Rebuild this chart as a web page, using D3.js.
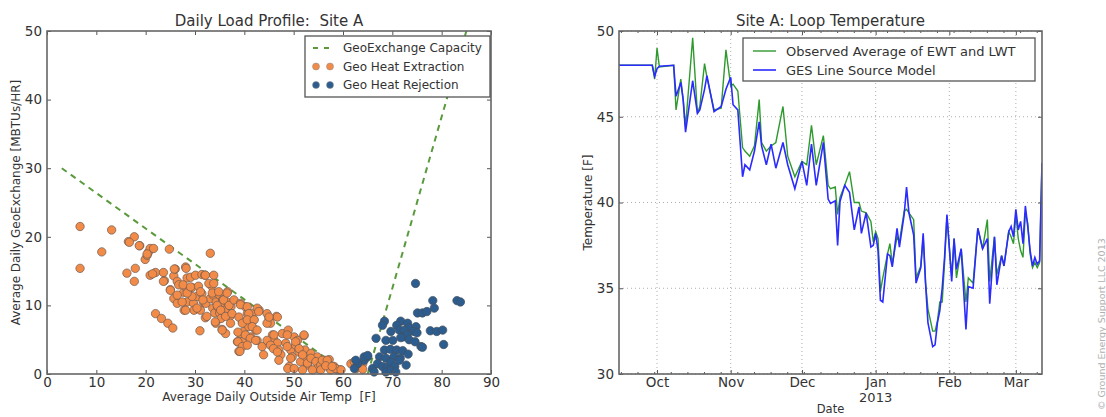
<!DOCTYPE html>
<html>
<head>
<meta charset="utf-8">
<script src="https://cdnjs.cloudflare.com/ajax/libs/d3/7.8.5/d3.min.js"></script>
<style>
	body { margin: 0; background: #fff; }
	svg { font-family: "DejaVu Sans", sans-serif; }
	text { white-space: pre; }
	.tick text { fill: #333; }
</style>
</head>
<body>
<div id="chart-area"></div>
<script>
// ---- left chart data: [outside air temp F, load MBTU/hr]
var extraction = [
	[6.7,21.5],[6.7,15.4],[11.1,17.8],[13.1,21.0],[16.2,14.7],[16.5,19.3],[17.7,20.0],[17.9,15.4],[17.7,13.5],[18.8,18.7],
	[19.9,16.7],[20.3,17.3],[20.6,17.8],[20.9,18.3],[21.6,18.3],[20.9,14.4],[22.0,14.8],[22.0,8.8],[23.2,8.1],[23.6,14.8],
	[23.8,13.6],[24.5,7.4],[24.8,18.2],[25.0,12.3],[25.5,6.7],[25.7,14.3],[26.0,15.3],[26.4,13.5],[26.7,13.0],[27.7,11.9],
	[27.8,9.3],[28.1,15.6],[28.4,14.0],[28.4,12.3],[28.4,10.5],[29.1,14.1],[29.4,12.6],[29.7,10.3],[29.8,9.3],[30.1,14.4],
	[30.4,11.3],[30.7,12.8],[31.0,6.3],[31.1,9.3],[31.4,14.5],[31.4,11.7],[31.7,10.5],[32.0,14.4],[32.1,8.2],[32.2,10.3],
	[33.1,17.6],[33.1,11.0],[33.4,12.8],[33.6,9.6],[33.7,11.5],[34.0,8.9],[34.2,7.4],[34.3,10.5],[34.6,9.8],[35.0,11.5],
	[35.0,8.9],[35.3,8.1],[35.5,6.5],[35.6,10.8],[35.9,10.0],[36.0,9.3],[36.2,5.9],[36.5,10.5],[36.6,12.0],[36.8,9.3],
	[37.1,8.4],[37.3,9.8],[38.6,4.7],[38.9,3.3],[39.1,5.9],[32.1,14.4],[32.8,13.2],[33.8,13.2],[33.8,14.4],[31.6,10.8],
	[32.4,8.4],[33.5,11.8],[34.5,10.0],[34.1,7.6],[35.2,9.3],[35.8,10.8],[36.2,8.4],[36.5,11.8],[36.9,10.0],[37.2,7.4],
	[37.5,8.8],[37.9,10.8],[35.5,6.4],[34.8,12.0],[39.2,10.3],[39.6,7.6],[39.9,6.2],[39.6,4.7],[40.2,9.8],[40.6,8.8],
	[40.9,6.9],[41.3,5.4],[41.6,8.8],[41.9,7.9],[42.3,6.4],[42.6,4.9],[43.0,9.3],[43.6,4.0],[43.9,2.8],[44.6,8.8],
	[45.0,8.1],[45.3,7.4],[45.7,5.7],[46.0,5.0],[46.5,8.4],[46.7,4.5],[47.0,3.5],[47.4,2.8],[47.7,5.9],[48.4,4.5],
	[48.9,6.4],[49.1,1.1],[49.4,3.5],[49.7,2.5],[50.1,5.4],[50.4,4.2],[50.8,4.9],[51.1,3.2],[51.4,1.8],[52.1,5.6],
	[52.3,3.5],[52.5,2.5],[52.8,1.3],[53.5,3.0],[54.2,2.1],[54.8,2.5],[55.2,1.6],[55.8,1.1],[56.5,1.8],[57.2,2.1],
	[57.5,0.8],[58.2,1.1],[58.9,0.6],[59.5,0.6],[39.2,10.1],[40.6,9.8],[40.9,8.8],[42.6,9.6],[42.9,9.1],[38.9,8.3],
	[39.6,7.4],[40.6,7.9],[42.0,7.9],[41.6,6.9],[42.6,6.4],[38.7,6.1],[40.2,5.7],[41.2,5.2],[42.3,4.9],[38.7,4.7],
	[39.6,4.0],[39.1,3.3],[40.6,4.2],[44.6,4.9],[45.3,4.2],[45.9,3.7],[46.7,3.2],[47.0,2.0],[46.0,5.7],[46.7,8.3],
	[44.6,7.4],[45.0,8.3],[48.7,5.7],[48.7,4.0],[49.4,2.3],[48.8,0.8],[50.1,0.8],[50.4,4.7],[51.1,3.7],[51.8,2.8],
	[51.8,0.6],[52.8,1.6],[53.5,2.3],[54.5,1.8],[54.8,0.8],[55.5,1.3],[56.2,2.0],[57.2,1.3],[57.5,0.6],[58.5,0.8],
	[59.6,0.6],[55.5,0.6],[53.8,0.6],[52.1,5.7],[23.6,13.5],[25.0,12.2],[25.7,11.0],[26.4,10.3],[27.4,10.5],[28.1,9.3],
	[29.4,11.3],[30.4,9.6],[31.1,12.0],[26.4,11.5],[27.6,13.0],[28.4,11.8],[29.1,12.7],[55.8,2.0],[56.8,2.0],[56.5,1.2],
	[57.8,1.1],[61.6,1.5],[62.3,1.8],[64.0,1.5],[62.7,0.8],[64.0,0.7],[16.7,19.2],[18.7,18.7],[20.3,17.5],[25.8,15.3],
	[28.2,15.4],[21.4,14.6]
];
var rejection = [
	[74.7,13.2],[83.1,10.7],[83.8,10.5],[78.2,10.7],[78.5,9.6],[75.1,8.9],[76.1,8.9],[77.0,9.1],[68.4,7.7],[68.0,7.1],
	[71.7,7.7],[70.9,7.1],[73.1,7.4],[73.4,6.7],[74.8,6.9],[69.7,6.2],[71.4,6.4],[72.4,6.4],[72.1,5.4],[73.0,5.7],
	[74.4,6.2],[75.0,6.0],[77.7,6.3],[79.0,6.2],[80.2,6.4],[66.7,5.2],[68.7,4.9],[70.1,4.9],[71.7,5.3],[73.4,5.0],
	[74.6,4.7],[75.8,4.0],[76.1,3.9],[80.4,4.3],[68.4,3.5],[69.6,3.6],[70.9,3.5],[72.1,3.4],[73.2,2.9],[65.0,2.5],
	[67.4,2.5],[68.7,2.3],[70.3,2.5],[71.6,2.3],[72.8,1.3],[64.3,2.0],[63.0,1.5],[62.3,0.8],[66.0,0.8],[67.0,1.5],
	[68.0,1.1],[69.0,1.0],[69.7,1.7],[70.5,1.1],[71.4,2.0],[66.3,0.3],[68.7,0.3],[69.7,0.5],[70.7,0.3],[62.6,2.0],
	[64.3,2.5],[65.0,2.7]
];
var heatCapacity = [[3, 30], [61, 0]];
var coolCapacity = [[65, 0], [85, 50]];
var loadLegend = ["GeoExchange Capacity", "Geo Heat Extraction", "Geo Heat Rejection"];

// ---- right chart data
var loopDates = ["2012-09-15","2012-09-29","2012-09-30","2012-10-01","2012-10-02","2012-10-08","2012-10-09","2012-10-11",
	"2012-10-12","2012-10-13","2012-10-16","2012-10-18","2012-10-19","2012-10-21","2012-10-22","2012-10-25","2012-10-28",
	"2012-10-30","2012-11-01","2012-11-02","2012-11-04","2012-11-06","2012-11-07","2012-11-09","2012-11-11","2012-11-13",
	"2012-11-14","2012-11-16","2012-11-18","2012-11-20","2012-11-23","2012-11-25","2012-11-28","2012-12-01","2012-12-03",
	"2012-12-05","2012-12-07","2012-12-10","2012-12-12","2012-12-13","2012-12-15","2012-12-16","2012-12-17","2012-12-19",
	"2012-12-21","2012-12-23","2012-12-25","2012-12-26","2012-12-28","2012-12-30","2012-12-31","2013-01-01","2013-01-02",
	"2013-01-03","2013-01-04","2013-01-06","2013-01-07","2013-01-08","2013-01-10","2013-01-11","2013-01-13","2013-01-14",
	"2013-01-15","2013-01-17","2013-01-18","2013-01-20","2013-01-21","2013-01-22","2013-01-23","2013-01-25","2013-01-26",
	"2013-01-27","2013-01-28","2013-01-29","2013-01-30","2013-01-31","2013-02-02","2013-02-03","2013-02-04","2013-02-06",
	"2013-02-08","2013-02-09","2013-02-11","2013-02-13","2013-02-15","2013-02-17","2013-02-18","2013-02-20","2013-02-21",
	"2013-02-23","2013-02-24","2013-02-26","2013-02-27","2013-02-28","2013-03-01","2013-03-02","2013-03-03","2013-03-04",
	"2013-03-05","2013-03-06","2013-03-07","2013-03-08","2013-03-09","2013-03-10","2013-03-11","2013-03-12"];
var modelTemp = [48.0,48.0,47.35,47.8,47.95,48.0,46.2,47.0,
	46.0,44.1,47.1,45.2,45.4,46.6,47.4,45.3,45.6,
	46.6,47.3,45.7,45.4,41.5,42.2,41.9,43.0,44.7,
	43.3,42.2,43.4,42.0,43.5,42.2,40.8,42.4,41.0,
	43.4,41.0,43.5,40.2,39.95,40.1,37.5,40.05,41.0,
	40.6,38.4,39.75,38.2,39.4,37.4,37.5,38.2,37.2,
	34.3,34.2,37.0,36.9,36.25,38.5,37.4,39.3,40.9,
	39.4,38.1,35.3,36.2,38.2,35.3,33.0,31.6,31.7,
	33.0,33.7,35.0,36.8,39.3,35.4,37.9,36.1,37.3,
	32.6,35.1,35.0,38.5,37.3,37.9,34.1,38.0,35.2,
	36.9,36.3,38.3,38.6,38.0,39.6,38.4,38.9,37.6,
	39.8,38.6,37.2,36.3,36.8,36.4,36.6,42.3];
var observedTemp = [48.0,48.0,47.2,49.0,47.9,48.0,45.4,47.2,
	46.0,44.4,49.6,45.2,45.6,48.1,47.3,45.4,45.5,
	48.9,46.8,46.9,46.5,43.2,43.0,42.7,43.3,46.0,
	43.5,43.0,43.3,43.5,45.6,42.7,41.5,42.4,42.2,
	44.5,42.2,43.9,41.0,40.8,40.9,39.3,40.3,41.0,
	41.8,40.0,40.0,39.5,39.4,38.9,37.7,38.3,37.9,
	34.8,35.6,37.0,37.6,36.4,38.0,37.7,39.5,39.6,
	39.4,39.0,35.6,36.3,38.0,35.3,33.8,32.5,32.5,
	33.1,34.2,34.2,36.5,39.2,35.7,37.9,35.6,37.3,
	34.2,35.6,35.3,38.5,37.3,39.0,35.4,38.0,35.8,
	36.9,36.3,38.3,38.0,37.6,39.3,37.9,37.2,36.8,
	39.4,38.8,37.0,36.2,36.5,36.2,36.5,42.3];
var loopLegend = ["Observed Average of EWT and LWT", "GES Line Source Model"];

var width = 1106;
var height = 417;
var orange = "#f28b48";
var navy = "#2d5d8f";

var svg = d3.select("#chart-area")
	.append("svg")
	.attr("width", width)
	.attr("height", height);

svg.append("rect").attr("width", width).attr("height", height).attr("fill", "#fff");

// ================= left: daily load profile =================
var L = {left: 47, right: 491, top: 31, bottom: 374};

var x = d3.scaleLinear().domain([0, 90]).range([L.left, L.right]);
var y = d3.scaleLinear().domain([0, 50]).range([L.bottom, L.top]);

var left = svg.append("g");

left.append("clipPath").attr("id", "clipL")
	.append("rect")
	.attr("x", L.left).attr("y", L.top)
	.attr("width", L.right - L.left).attr("height", L.bottom - L.top);

function frameAxes(g, xs, ys, b, xTicks, yTicks, xFmt) {
	g.append("g")
		.attr("transform", "translate(0," + b.bottom + ")")
		.call(d3.axisBottom(xs).tickValues(xTicks).tickSizeInner(-4).tickSizeOuter(0).tickPadding(3).tickFormat(xFmt));
	g.append("g")
		.attr("transform", "translate(0," + b.top + ")")
		.call(d3.axisTop(xs).tickValues(xTicks).tickSizeInner(-4).tickSizeOuter(0).tickFormat(""));
	g.append("g")
		.attr("transform", "translate(" + b.left + ",0)")
		.call(d3.axisLeft(ys).tickValues(yTicks).tickSizeInner(-4).tickSizeOuter(0).tickPadding(5).tickFormat(d3.format("d")));
	g.append("g")
		.attr("transform", "translate(" + b.right + ",0)")
		.call(d3.axisRight(ys).tickValues(yTicks).tickSizeInner(-4).tickSizeOuter(0).tickFormat(""));
	g.selectAll(".domain").remove();
	g.selectAll(".tick line").attr("stroke", "#555");
	g.selectAll(".tick text").attr("font-size", "13.5px").attr("font-family", "DejaVu Sans");
}

var lineL = d3.line().x((d) => x(d[0])).y((d) => y(d[1]));

[heatCapacity, coolCapacity].forEach((seg) => {
	left.append("path")
		.datum(seg)
		.attr("clip-path", "url(#clipL)")
		.attr("d", lineL)
		.attr("fill", "none")
		.attr("stroke", "#5a9a3c")
		.attr("stroke-width", 2)
		.attr("stroke-dasharray", "6,5");
});

left.append("g").selectAll("circle")
	.data(extraction)
	.enter().append("circle")
	.attr("cx", (d) => x(d[0]))
	.attr("cy", (d) => y(d[1]))
	.attr("r", 4.2)
	.attr("fill", orange)
	.attr("stroke", "#6b5a50")
	.attr("stroke-width", 0.7);

left.append("g").selectAll("circle")
	.data(rejection)
	.enter().append("circle")
	.attr("cx", (d) => x(d[0]))
	.attr("cy", (d) => y(d[1]))
	.attr("r", 4.2)
	.attr("fill", navy)
	.attr("stroke", "#44505c")
	.attr("stroke-width", 0.7);

frameAxes(left, x, y, L, d3.range(0, 91, 10), d3.range(0, 51, 10), d3.format("d"));

left.append("rect")
	.attr("x", L.left).attr("y", L.top)
	.attr("width", L.right - L.left).attr("height", L.bottom - L.top)
	.attr("fill", "none").attr("stroke", "#666").attr("stroke-width", 1.6);

// legend
var legL = left.append("g").attr("transform", "translate(305,36)");
legL.append("rect")
	.attr("width", 185).attr("height", 61)
	.attr("fill", "#fff").attr("stroke", "#555").attr("stroke-width", 1.3);
loadLegend.forEach((name, i) => {
	var row = legL.append("g").attr("transform", "translate(0," + (12 + i * 18.5) + ")");
	if (i == 0) {
		row.append("line")
			.attr("x1", 8).attr("x2", 30).attr("y1", 0).attr("y2", 0)
			.attr("stroke", "#5a9a3c").attr("stroke-width", 2).attr("stroke-dasharray", "5,6");
	} else {
		[11, 25].forEach((cx) => {
			row.append("circle")
				.attr("cx", cx).attr("cy", 0).attr("r", 3.5)
				.attr("fill", i == 1 ? orange : navy)
				.attr("stroke", "#888").attr("stroke-width", 0.5);
		});
	}
	row.append("text")
		.attr("x", 38).attr("y", 4)
		.attr("font-size", "12px")
		.attr("fill", "#333")
		.text(name);
});

left.append("text")
	.attr("x", (L.left + L.right) / 2).attr("y", 26)
	.attr("text-anchor", "middle")
	.attr("font-size", "15px")
	.attr("fill", "#333")
	.text("Daily Load Profile:  Site A");

left.append("text")
	.attr("x", (L.left + L.right) / 2).attr("y", 401)
	.attr("text-anchor", "middle")
	.attr("font-size", "12px")
	.attr("fill", "#333")
	.text("Average Daily Outside Air Temp  [F]");

left.append("text")
	.attr("transform", "translate(20," + ((L.top + L.bottom) / 2) + ") rotate(-90)")
	.attr("text-anchor", "middle")
	.attr("font-size", "12px")
	.attr("fill", "#333")
	.text("Average Daily GeoExchange [MBTUs/HR]");

// ================= right: loop temperature =================
var R = {left: 619, right: 1042, top: 31, bottom: 374};
var parseDate = d3.timeParse("%Y-%m-%d");
var dates = loopDates.map(parseDate);

var xt = d3.scaleTime()
	.domain([parseDate("2012-09-15"), parseDate("2013-03-12")])
	.range([R.left, R.right]);
var yt = d3.scaleLinear().domain([30, 50]).range([R.bottom, R.top]);

var right = svg.append("g");

right.append("clipPath").attr("id", "clipR")
	.append("rect")
	.attr("x", R.left).attr("y", R.top)
	.attr("width", R.right - R.left).attr("height", R.bottom - R.top);

var monthTicks = d3.timeMonth.range(parseDate("2012-10-01"), parseDate("2013-03-02"));
var tempTicks = d3.range(30, 51, 5);

// grid
right.append("g").selectAll("line.vg")
	.data(monthTicks)
	.enter().append("line")
	.attr("x1", (d) => xt(d)).attr("x2", (d) => xt(d))
	.attr("y1", R.top).attr("y2", R.bottom)
	.attr("stroke", "#999").attr("stroke-width", 0.8).attr("stroke-dasharray", "1,3");
right.append("g").selectAll("line.hg")
	.data(tempTicks)
	.enter().append("line")
	.attr("x1", R.left).attr("x2", R.right)
	.attr("y1", (d) => yt(d)).attr("y2", (d) => yt(d))
	.attr("stroke", "#999").attr("stroke-width", 0.8).attr("stroke-dasharray", "1,3");

var lineR = d3.line().x((d, i) => xt(dates[i])).y((d) => yt(d));

right.append("path")
	.datum(observedTemp)
	.attr("clip-path", "url(#clipR)")
	.attr("d", lineR)
	.attr("fill", "none")
	.attr("stroke", "#2e9a2e")
	.attr("stroke-width", 1.4);

right.append("path")
	.datum(modelTemp)
	.attr("clip-path", "url(#clipR)")
	.attr("d", lineR)
	.attr("fill", "none")
	.attr("stroke", "#2b2bff")
	.attr("stroke-width", 1.6);

frameAxes(right, xt, yt, R, monthTicks, tempTicks, d3.timeFormat("%b"));

// weekly minor ticks
var weekTicks = d3.timeWeek.range(xt.domain()[0], xt.domain()[1]);
[R.bottom, R.top].forEach((yy, k) => {
	right.append("g").selectAll("line")
		.data(weekTicks)
		.enter().append("line")
		.attr("x1", (d) => xt(d)).attr("x2", (d) => xt(d))
		.attr("y1", yy).attr("y2", k == 0 ? yy - 2 : yy + 2)
		.attr("stroke", "#555");
});

right.append("rect")
	.attr("x", R.left).attr("y", R.top)
	.attr("width", R.right - R.left).attr("height", R.bottom - R.top)
	.attr("fill", "none").attr("stroke", "#666").attr("stroke-width", 1.6);

right.append("text")
	.attr("x", xt(parseDate("2013-01-01"))).attr("y", 402)
	.attr("text-anchor", "middle")
	.attr("font-size", "13px")
	.attr("fill", "#333")
	.text("2013");

right.append("text")
	.attr("x", (R.left + R.right) / 2).attr("y", 413)
	.attr("text-anchor", "middle")
	.attr("font-size", "11.5px")
	.attr("fill", "#333")
	.text("Date");

right.append("text")
	.attr("transform", "translate(592," + ((R.top + R.bottom) / 2) + ") rotate(-90)")
	.attr("text-anchor", "middle")
	.attr("font-size", "12px")
	.attr("fill", "#333")
	.text("Temperature [F]");

right.append("text")
	.attr("x", (R.left + R.right) / 2).attr("y", 26)
	.attr("text-anchor", "middle")
	.attr("font-size", "15px")
	.attr("fill", "#333")
	.text("Site A: Loop Temperature");

var legR = right.append("g").attr("transform", "translate(743,38)");
legR.append("rect")
	.attr("width", 292).attr("height", 43)
	.attr("fill", "#fff").attr("stroke", "#555").attr("stroke-width", 1.3);
loopLegend.forEach((name, i) => {
	var row = legR.append("g").attr("transform", "translate(0," + (13 + i * 19) + ")");
	row.append("line")
		.attr("x1", 10).attr("x2", 33).attr("y1", 0).attr("y2", 0)
		.attr("stroke", i == 0 ? "#2e9a2e" : "#2b2bff")
		.attr("stroke-width", i == 0 ? 1.4 : 1.6);
	row.append("text")
		.attr("x", 43).attr("y", 5)
		.attr("font-size", "13px")
		.attr("fill", "#333")
		.text(name);
});

svg.append("text")
	.attr("transform", "translate(1105,410) rotate(-90)")
	.attr("font-size", "9.5px")
	.attr("fill", "#b0b0b0")
	.text("\u00a9 Ground Energy Support LLC 2013");
</script>
</body>
</html>
